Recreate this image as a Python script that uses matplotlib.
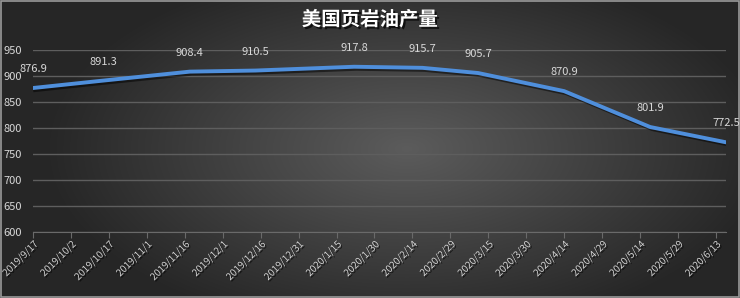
import numpy as np
import pandas as pd
import matplotlib
matplotlib.use("Agg")
import matplotlib.pyplot as plt
import matplotlib.dates as mdates
import matplotlib.patheffects as pe

plt.rcParams['font.family'] = ['Noto Sans CJK SC', 'DejaVu Sans']

title = "美国页岩油产量"
dates = pd.to_datetime(["2019-09-17", "2019-10-15", "2019-11-18", "2019-12-14", "2020-01-22",
                        "2020-02-18", "2020-03-11", "2020-04-14", "2020-05-18", "2020-06-17"])
values = [876.9, 891.3, 908.4, 910.5, 917.8, 915.7, 905.7, 870.9, 801.9, 772.5]
tick_dates = pd.date_range("2019-09-17", "2020-06-13", freq="15D")
yticks = [600, 650, 700, 750, 800, 850, 900, 950]

fig = plt.figure(figsize=(7.4, 2.98), dpi=100)

# background radial gradient
bg = fig.add_axes([0, 0, 1, 1], zorder=-10)
yy, xx = np.mgrid[0:1:300j, 0:1:740j]
d = np.sqrt(((xx - 0.55) / 0.7) ** 2 + ((yy - 0.5) / 0.9) ** 2)
g = np.clip(0.36 - 0.30 * d, 0.15, 0.36)
img = np.dstack([g, g, g])
bg.imshow(img, aspect='auto', extent=[0, 1, 0, 1], origin='lower')
bg.set_xlim(0, 1); bg.set_ylim(0, 1)
bg.axis('off')
bg.add_patch(plt.Rectangle((0.001, 0.002), 0.997, 0.995, fill=False, ec='#9a9a9a', lw=1.2,
                           transform=bg.transAxes))

ax = fig.add_axes([33 / 740, 1 - 232 / 298, (726 - 33) / 740, (232 - 50) / 298])
ax.patch.set_alpha(0)
ax.set_xlim(pd.Timestamp("2019-09-17"), pd.Timestamp("2020-06-17"))
ax.set_ylim(600, 950)
ax.set_yticks(yticks)
ax.set_xticks(tick_dates)
ax.xaxis.set_major_formatter(mdates.DateFormatter('%Y/%-m/%-d'))
ax.grid(axis='y', color='#5e5e5e', lw=1)
ax.set_axisbelow(True)
for s in ['top', 'right', 'left']:
    ax.spines[s].set_visible(False)
ax.spines['bottom'].set_color('#6a6a6a')
ax.tick_params(axis='x', colors='#6a6a6a', length=4, labelcolor='#d8d8d8', labelsize=7,
               rotation=45, pad=1)
ax.tick_params(axis='y', length=0, labelcolor='#d8d8d8', labelsize=8, pad=8)
for lab in ax.get_xticklabels():
    lab.set_ha('right')
    lab.set_rotation_mode('anchor')
    lab.set_path_effects([pe.withSimplePatchShadow(offset=(1, -1), shadow_rgbFace='black', alpha=0.6)])

ax.plot(dates, values, color='#4f8fdc', lw=2.8, solid_joinstyle='round',
        path_effects=[pe.SimpleLineShadow(offset=(1.5, -1.5), alpha=0.5), pe.Normal()])
for dt, v in zip(dates, values):
    ax.annotate(f"{v:.1f}", (dt, v), xytext=(0, 10), textcoords='offset points',
                ha='center', va='bottom', color='#d8d8d8', fontsize=8)

fig.text(0.5, 1 - 20 / 298, title, ha='center', va='center', color='white', fontsize=14,
         fontweight='bold',
         path_effects=[pe.withSimplePatchShadow(offset=(1.5, -1.5), shadow_rgbFace='black', alpha=0.7)])

fig.savefig("out.png", dpi=100)
